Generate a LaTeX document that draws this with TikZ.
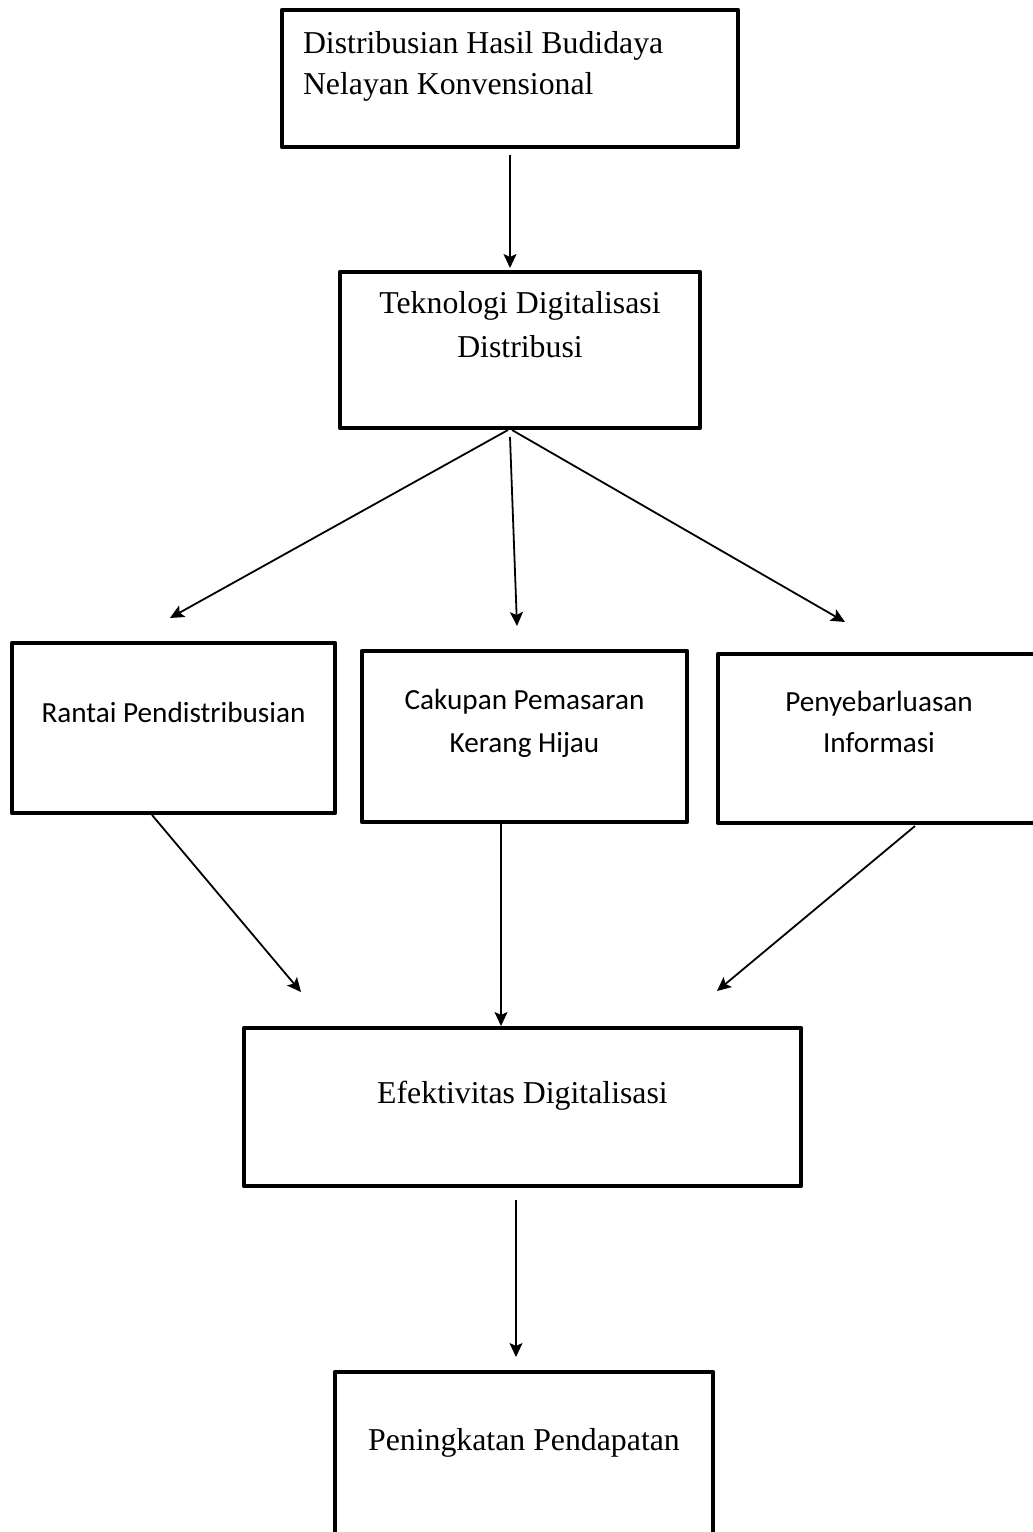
\documentclass[tikz,border=0pt]{standalone}
\usepackage{fontspec}
\setmainfont{Liberation Serif}
\newfontfamily\calibri{Carlito}
\usetikzlibrary{arrows.meta,calc}
\setlength{\parskip}{0pt}
\setlength{\parindent}{0pt}
\newcommand{\boxtext}[5]{\parbox[c][#2pt][t]{#1pt}{\vspace*{#3pt}#4#5\par}}
\newcommand{\tnrfont}[1]{\fontsize{31.8}{#1}\selectfont}
\newcommand{\calfont}[1]{\calibri\fontsize{29.2}{#1}\selectfont}
\begin{document}
\begin{tikzpicture}[x=1pt,y=-1pt,
  box/.style={draw=black,line width=4.5pt,inner sep=0pt,outer sep=0pt,rectangle,line join=round},
  arr/.style={line width=1.8pt,-{Stealth[length=14pt,width=13pt,inset=3pt]}}]
\useasboundingbox (0,0) rectangle (1033,1532);
\node[box] (n1) at (510,78.5) {\boxtext{456}{137}{21.3}{\tnrfont{41}\raggedright\leftskip=21pt}{Distribusian Hasil Budidaya\\Nelayan Konvensional}};
\node[box] (n2) at (520,350) {\boxtext{360}{156}{19.3}{\tnrfont{44}\centering}{Teknologi Digitalisasi\\Distribusi}};
\node[box] (r1) at (173.5,728) {\boxtext{323}{170}{59.6}{\calfont{42}\centering}{Rantai Pendistribusian}};
\node[box] (r2) at (524.5,736.5) {\boxtext{325}{171}{38.6}{\calfont{43}\centering}{Cakupan Pemasaran\\Kerang Hijau}};
\node[box] (r3) at (879,738.5) {\boxtext{322}{169}{37.6}{\calfont{41}\centering}{Penyebarluasan\\Informasi}};
\node[box] (n4) at (522.5,1107) {\boxtext{557}{158}{53.3}{\tnrfont{42}\centering}{Efektivitas Digitalisasi}};
\node[box] (n5) at (524,1460) {\boxtext{378}{176}{56.3}{\tnrfont{42}\centering}{Peningkatan Pendapatan}};
\draw[arr] ($(n1.south)+(0,8)$) -- ($(n2.north)+(-10,-4)$);
\draw[arr] ($(n2.south)+(-12,2)$) -- ($(r1.north)+(-3.5,-25)$);
\draw[arr] ($(n2.south)+(-10,9)$) -- ($(r2.north)+(-7.5,-25)$);
\draw[arr] ($(n2.south)+(-8,2)$) -- ($(r3.north)+(-34,-32)$);
\draw[arr] ($(r1.south)+(-21.5,2)$) -- ($(n4.north)+(-221.5,-36)$);
\draw[arr] ($(r2.south)+(-23.5,2)$) -- ($(n4.north)+(-21.5,-2)$);
\draw[arr] ($(r3.south)+(36,3)$) -- ($(n4.north)+(194.5,-37)$);
\draw[arr] ($(n4.south)+(-6.5,14)$) -- ($(n5.north)+(-8,-15)$);
\end{tikzpicture}
\end{document}
